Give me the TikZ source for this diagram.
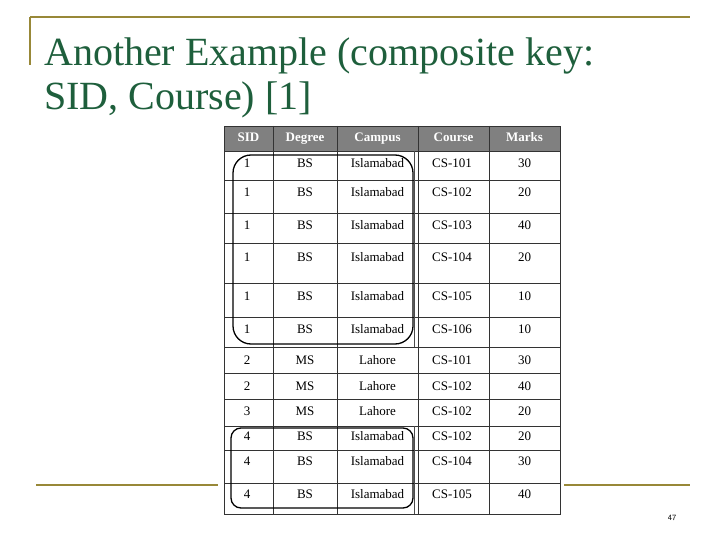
\documentclass[tikz,border=0pt]{standalone}
\usepackage{fontspec}
\setmainfont{Liberation Serif}
\begin{document}
\begin{tikzpicture}[x=1pt,y=-1pt,
  gold/.style={draw=gold!80!black,line width=1.5pt},
  cell/.style={font=\fontsize{13}{14}\selectfont,anchor=center,text height=9pt,text depth=2pt},
  head/.style={font=\fontsize{13}{14}\selectfont\bfseries,text=white,anchor=center,text height=9pt,text depth=3pt},
  keybox/.style={draw=black,line width=1.3pt,rounded corners=18pt}]
\definecolor{gold}{RGB}{190,170,70}
\definecolor{titlegreen}{RGB}{30,95,60}
\useasboundingbox (0,0) rectangle (720,540);
\fill[white] (0,0) rectangle (720,540);
\draw[gold] (30,17) -- (690,17);
\draw[gold] (30,17) -- (30,65);
\draw[gold] (36,485) -- (218,485);
\draw[gold] (564,485) -- (690,485);
\node[anchor=base west,text=titlegreen,font=\fontsize{40}{44}\selectfont,inner sep=0pt] (t1) at (44,66) {Another Example (composite key:};
\node[anchor=base west,text=titlegreen,font=\fontsize{40}{44}\selectfont,inner sep=0pt] (t2) at (44,110) {SID, Course) [1]};
\fill[white] (224,126) rectangle (560,514);
\fill[gray] (224,126) rectangle (560,151);
\foreach \y in {151,180,213,243,283,317,347,373,399,426,450,483} \draw[black!80] (224,\y) -- (560,\y);
\draw[black!80] (224,126) rectangle (560,514);
\foreach \x in {273,337,418,489} \draw[black!80] (\x,126) -- (\x,514);
\draw[black!70] (414,151) -- (414,347);
\draw[black!70] (414,426) -- (414,514);
\node[head] (h1) at (248.5,138.5) {SID};
\node[head] (h2) at (305,138.5) {Degree};
\node[head] (h3) at (377.5,138.5) {Campus};
\node[head] (h4) at (453.5,138.5) {Course};
\node[head] (h5) at (524.5,138.5) {Marks};
\foreach \y/\s/\d/\c/\co/\m in {164/1/BS/Islamabad/CS-101/30,193/1/BS/Islamabad/CS-102/20,226/1/BS/Islamabad/CS-103/40,258/1/BS/Islamabad/CS-104/20,297/1/BS/Islamabad/CS-105/10,330/1/BS/Islamabad/CS-106/10,361/2/MS/Lahore/CS-101/30,387/2/MS/Lahore/CS-102/40,412/3/MS/Lahore/CS-102/20,437/4/BS/Islamabad/CS-102/20,462/4/BS/Islamabad/CS-104/30,495/4/BS/Islamabad/CS-105/40}{
  \node[cell] at (247,\y) {\s};
  \node[cell] at (305,\y) {\d};
  \node[cell] at (377.5,\y) {\c};
  \node[cell] at (452,\y) {\co};
  \node[cell] at (524.5,\y) {\m};
}
\draw[keybox] (233,155) rectangle (413,344);
\draw[keybox,rounded corners=10pt] (231,428) rectangle (413,508);
\node[font=\sffamily\fontsize{8}{9}\selectfont] (pg) at (672,518) {47};
\end{tikzpicture}
\end{document}
